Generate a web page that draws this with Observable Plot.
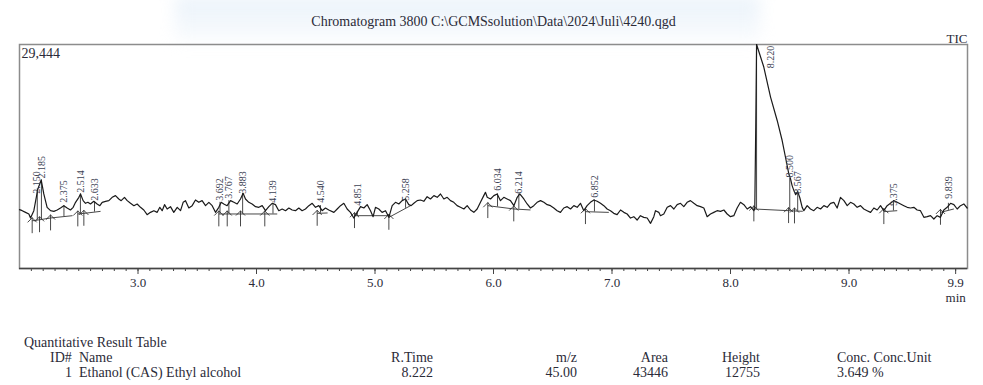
<!DOCTYPE html>
<html><head><meta charset="utf-8">
<script src="https://cdn.jsdelivr.net/npm/d3@7"></script>
<script src="https://cdn.jsdelivr.net/npm/@observablehq/plot@0.6"></script>
<style>
body{margin:0;background:#fff;}
#wrap{position:relative;width:983px;height:385px;overflow:hidden;font-family:"Liberation Serif","Times New Roman",serif;color:#2b2b38;}
#wm{position:absolute;left:175px;top:-4px;width:585px;height:44px;background:linear-gradient(to bottom,rgba(220,234,247,0.6),rgba(236,243,250,0.35));filter:blur(8px);}
#chart{position:absolute;left:0;top:0;}
.t{position:absolute;white-space:nowrap;font-size:14px;line-height:14px;}
.r{text-align:right;}
</style></head><body><div id="wrap"><div id="wm"></div><div id="chart"></div></div>
<script>
// ---- data ----
const chartTitle = "Chromatogram 3800 C:\\GCMSsolution\\Data\\2024\\Juli\\4240.qgd";
const traceName = "TIC";
const yMax = 29444;

const traceTime = [2.000,2.023,2.051,2.079,2.093,2.121,2.155,2.183,2.205,2.233,2.262,2.290,2.318,2.346,2.374,2.402,2.430,2.453,2.473,2.501,2.515,2.537,2.557,2.577,2.599,2.627,2.655,2.678,2.698,2.726,2.754,2.782,2.810,2.838,2.858,2.886,2.909,2.937,2.965,2.993,3.021,3.049,3.077,3.105,3.134,3.162,3.184,3.204,3.224,3.246,3.274,3.302,3.331,3.359,3.381,3.401,3.429,3.457,3.485,3.513,3.541,3.570,3.598,3.626,3.654,3.682,3.702,3.724,3.752,3.781,3.809,3.837,3.865,3.887,3.907,3.935,3.963,3.992,4.020,4.048,4.076,4.104,4.132,4.160,4.188,4.217,4.245,4.273,4.301,4.329,4.357,4.385,4.413,4.442,4.470,4.498,4.526,4.554,4.582,4.610,
4.653,4.681,4.709,4.737,4.765,4.793,4.821,4.849,4.878,4.906,4.934,4.962,4.984,5.004,5.032,5.060,5.089,5.117,5.145,5.173,5.201,5.229,5.257,5.285,5.305,5.328,5.356,5.384,5.412,5.440,5.468,5.497,5.525,5.553,5.581,5.609,5.637,5.665,5.693,5.721,5.750,5.778,5.806,5.834,5.862,5.890,5.918,5.932,5.947,5.975,6.003,6.031,6.059,6.087,6.115,6.143,6.172,6.200,6.222,6.256,6.284,6.312,6.340,6.368,6.397,6.425,6.453,6.481,6.509,6.537,6.565,6.593,6.622,6.650,6.678,6.706,6.734,6.762,6.790,6.818,6.847,6.875,6.903,6.931,6.959,6.987,7.015,7.043,7.072,7.100,7.128,7.156,7.184,7.212,7.240,7.268,7.297,7.325,7.353,7.367,7.395,
7.409,7.437,7.466,7.494,7.522,7.550,7.578,7.606,7.634,7.662,7.691,7.719,7.747,7.775,7.803,7.831,7.859,7.887,7.916,7.944,7.972,8.000,8.028,8.056,8.084,8.113,8.141,8.169,8.197,
8.205,8.213,8.220,8.250,8.281,8.338,8.394,8.436,8.464,8.492,8.506,8.520,8.535,8.550,8.567,8.585,8.605,
8.619,8.647,8.675,8.703,8.731,8.760,8.788,8.816,8.844,8.872,8.900,8.928,8.957,8.985,9.013,9.041,9.069,9.097,9.125,9.153,9.182,9.210,9.238,9.266,9.294,9.322,9.350,9.378,9.407,9.435,9.463,9.491,9.519,9.547,9.575,9.603,9.632,9.660,9.688,9.716,9.744,9.772,9.800,9.828,9.857,9.885,9.913,9.941,9.969,9.997];

const traceTIC = [7733,7602,7382,7163,6636,7602,10456,11641,9797,8041,7602,7514,7690,7953,8260,7953,7690,8041,8699,9358,9797,8919,8568,8699,8480,8831,8480,8260,8699,8831,8919,9358,9578,9139,8919,9358,8919,8568,8260,8480,8041,7690,7075,7382,7602,7382,8041,7602,8392,7821,8129,7382,8041,7602,8699,8919,7953,8260,9007,8699,8919,8260,8699,8260,7382,8041,8699,8480,8260,8919,8699,8480,9139,9885,9139,8699,8480,8129,8041,8260,7602,8129,8568,8392,7602,7821,7602,7953,7690,7602,7953,7602,7821,8260,8568,8041,8260,7602,7953,7690,
7382,7821,8260,8568,7821,7382,6636,7382,8129,7953,8392,7602,6811,8041,7821,7382,7602,6724,8260,8699,8480,8919,9139,8392,8260,8568,8919,9007,8831,9446,9139,9578,9358,9797,9139,9358,8919,8699,8260,8041,7821,8260,7690,7382,7821,8699,9578,10017,9358,9139,9578,9797,8919,9358,9139,8919,8260,9358,9797,9139,8480,7953,8260,8699,8919,8699,8392,8260,7953,7602,7382,7953,8129,7821,8260,8041,8568,7602,8260,8699,9007,8831,8568,8260,7821,7602,7251,7075,7690,7382,7163,6636,6811,6373,6943,6724,6636,5933,6811,7602,7382,
6943,7163,8041,8260,7821,8392,8568,8129,8699,8919,8568,8260,8129,7953,6811,7163,7382,7602,7514,7690,7163,6811,6943,7953,8699,8392,7821,8129,7602,
7900,18500,29444,28000,26480,22528,19458,16823,14623,12436,11817,10900,10236,9700,10100,9300,8036,
7602,8260,7821,7602,8041,7821,8260,8041,8568,8699,7953,9358,8919,8260,8699,8480,8041,8260,7821,7602,7382,7953,7690,8260,7602,8260,8568,8919,8699,8480,8260,8041,7953,8041,7690,7602,6724,6811,6943,6504,6943,6724,7690,8041,8568,8392,7821,8260,8480,7953];

// detected peaks
const peakRT      = [2.150,2.185,2.375,2.514,2.633,3.692,3.767,3.883,4.139,4.540,4.851,5.258,6.034,6.214,6.852,8.220,8.500,8.567,9.375,9.839];
const peakTop     = [10456,11641,8260,9797,8700,8700,8919,9885,8568,8260,7500,9139,9797,9797,9007,29444,11817,10100,8919,8568];
const peakBase    = [6363,6444,6825,7201,7414,7167,7167,7167,7167,7260,6943,7906,8097,7785,7434,7807,7593,7545,7564,7643];
const peakLabelAt = [9841,11817,8655,9973,8919,8919,9183,9841,8655,8655,8260,8919,10236,9841,9314,26310,11949,9841,8260,9183];

// integration baselines
const baseT1 = [2.107,2.169,2.262,2.492,2.543,3.682,4.512,4.827,5.117,5.952,6.171,6.776,8.197,8.490,8.540,9.294,9.772];
const baseV1 = [6271,6403,6640,7167,7246,7167,7246,6943,6719,8260,7825,7470,7825,7601,7560,7470,7377];
const baseT2 = [2.169,2.262,2.447,2.543,2.684,4.175,4.600,5.117,5.300,6.171,6.312,6.973,8.490,8.540,8.610,9.407,9.885];
const baseV2 = [6403,6640,6943,7246,7509,7167,7300,6943,8260,7825,7694,7377,7601,7560,7520,7601,7825];

// peak start / end markers
const markT = [2.107,2.169,2.262,2.492,2.543,3.682,3.753,3.865,4.070,4.512,4.827,5.117,5.952,6.171,6.776,8.197,8.490,8.540,9.294,9.772];
const markV = [6271,6403,6640,7167,7246,7167,7167,7167,7167,7246,6943,6719,8260,7825,7470,7825,7601,7560,7470,7377];

// axis
const xDomain = [2.0, 10.0];
const majorTicks = [3.0,4.0,5.0,6.0,7.0,8.0,9.0,9.9];
const minorTicks = d3.range(21, 100).map(d => d / 10);
const xUnit = "min";

// quantitative result table
const tableTitle = "Quantitative Result Table";
const tableHeader = ["ID#","Name","R.Time","m/z","Area","Height","Conc. Conc.Unit"];
const tableRow    = ["1","Ethanol (CAS) Ethyl alcohol","8.222","45.00","43446","12755","3.649 %"];

// ---- build ----
const trace = traceTime.map((t, i) => ({t, v: traceTIC[i]}));
const peaks = peakRT.map((rt, i) => ({rt, top: peakTop[i], base: peakBase[i], lab: peakLabelAt[i], text: rt.toFixed(3)}));
const bases = baseT1.map((t, i) => ({t1: t, v1: baseV1[i], t2: baseT2[i], v2: baseV2[i]}));
const marks = markT.map((t, i) => ({t, v: markV[i]}));
const mainPeak = peaks.filter(d => d.top === yMax);
const otherPeaks = peaks.filter(d => d.top !== yMax);

const ink = "#2b2b38";
const chart = Plot.plot({
  width: 983, height: 300,
  marginLeft: 19, marginRight: 16, marginTop: 44, marginBottom: 32,
  x: {domain: xDomain},
  y: {domain: [0, yMax], axis: null},
  style: {fontFamily: "'Liberation Serif','Times New Roman',serif", background: "transparent", color: ink, overflow: "visible"},
  marks: [
    Plot.frame({stroke: "#8c8c8c", strokeWidth: 1.5}),
    Plot.axisX({ticks: minorTicks, tickSize: 3, tickFormat: () => "", stroke: "#444", label: null}),
    Plot.axisX({ticks: majorTicks, tickSize: 6, tickPadding: 3, tickFormat: d => d.toFixed(1), fontSize: 13, stroke: "#444", label: null}),
    Plot.ruleY([0], {stroke: "#444", strokeWidth: 1.5}),
    Plot.link(bases, {x1: "t1", y1: "v1", x2: "t2", y2: "v2", stroke: "#333", strokeWidth: 0.9}),
    Plot.ruleX(peaks, {x: "rt", y1: "base", y2: "top", stroke: "#333", strokeWidth: 0.9}),
    Plot.vector(marks, {x: "t", y: "v", length: 15, r: 5, rotate: 0, anchor: "end", shape: "arrow", dy: -3, stroke: "#333", strokeWidth: 0.9}),
    Plot.line(trace, {x: "t", y: "v", stroke: "#1a1a1a", strokeWidth: 1.2}),
    Plot.text(otherPeaks, {x: "rt", y: "lab", text: "text", rotate: -90, textAnchor: "start", lineAnchor: "middle", fontSize: 10, fill: "#3c4254"}),
    Plot.text(mainPeak, {x: "rt", y: "lab", text: "text", rotate: -90, textAnchor: "start", lineAnchor: "middle", fontSize: 10, dx: 14, fill: "#3c4254"}),
    Plot.text([chartTitle], {frameAnchor: "top", dy: -23, lineAnchor: "middle", fontSize: 14, fill: ink}),
    Plot.text([traceName], {frameAnchor: "top-right", textAnchor: "end", lineAnchor: "bottom", dy: -2, fontSize: 13, fill: ink}),
    Plot.text([yMax], {frameAnchor: "top-left", textAnchor: "start", lineAnchor: "top", dx: 2, dy: 4, text: d => d3.format(",")(d), fontSize: 14, fill: ink}),
    Plot.text([{x: 9.9, s: xUnit}], {x: "x", text: "s", frameAnchor: "bottom", lineAnchor: "top", dy: 24, fontSize: 13, fill: ink})
  ]
});
document.getElementById("chart").appendChild(chart);

// table as real text
const wrap = document.getElementById("wrap");
function put(txt, left, top, right) {
  const el = document.createElement("div");
  el.className = "t" + (right ? " r" : "");
  el.textContent = txt;
  el.style.top = top + "px";
  if (right) { el.style.left = (left - 300) + "px"; el.style.width = "300px"; }
  else el.style.left = left + "px";
  wrap.appendChild(el);
}
put(tableTitle, 24, 336);
const hTop = 351, rTop = 366;
const cols = [[72, true], [79, false], [433, true], [577, true], [668, true], [760, true], [837, false]];
tableHeader.forEach((h, i) => put(h, i === 0 ? 50 : cols[i][0], hTop, i === 0 ? false : cols[i][1]));
tableRow.forEach((v, i) => put(v, cols[i][0], rTop, cols[i][1]));
</script>
</body></html>
